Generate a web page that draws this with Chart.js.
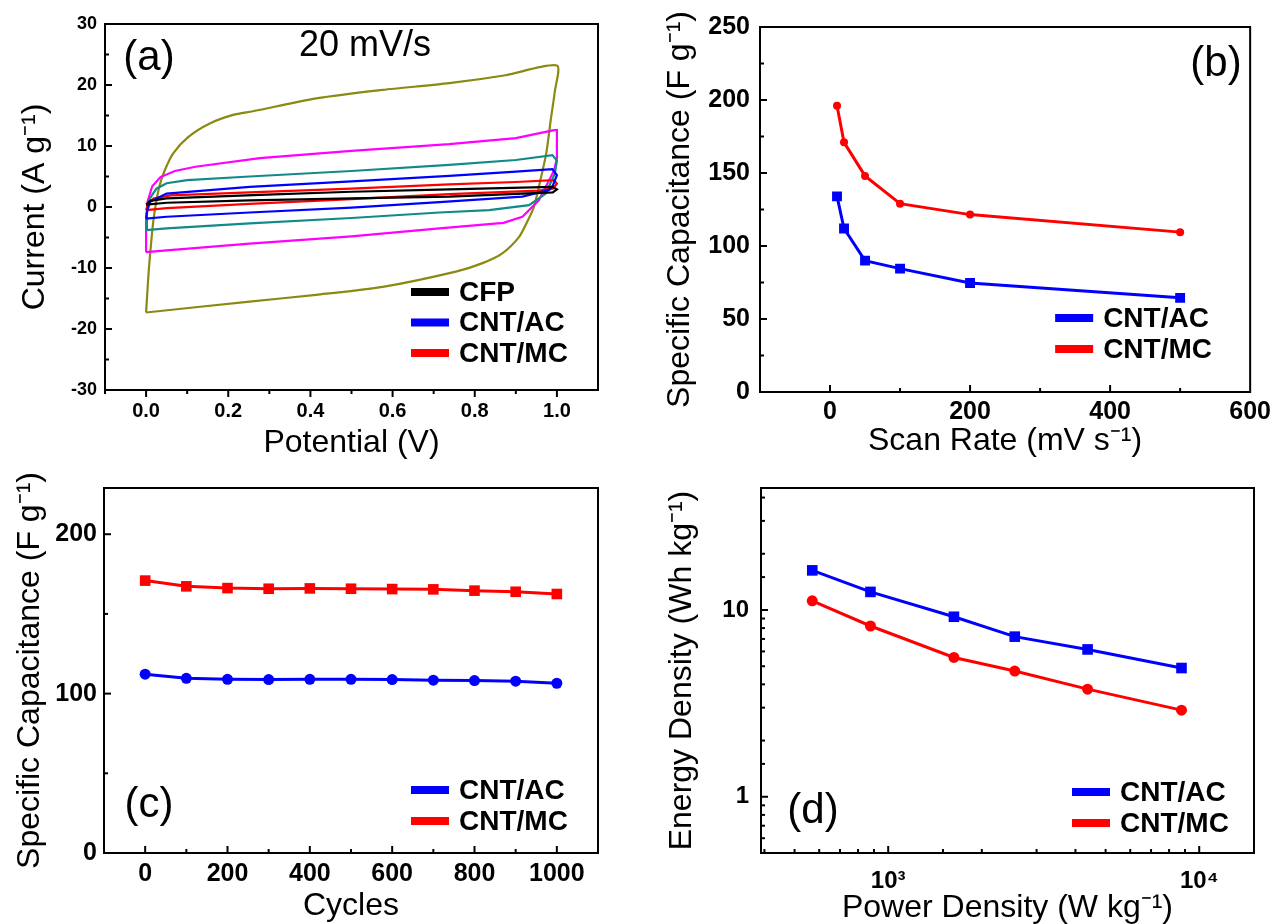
<!DOCTYPE html>
<html>
<head>
<meta charset="utf-8">
<script src="https://cdn.jsdelivr.net/npm/chart.js@4.4.1/dist/chart.umd.min.js"></script>
<style>
  html, body { margin: 0; padding: 0; background: #fff; }
  #fig { position: relative; width: 1276px; height: 924px; overflow: hidden; }
  #fig canvas { position: absolute; }
</style>
</head>
<body>
<div id="fig">
  <canvas id="cvA" width="620" height="460" style="left:0;top:0"></canvas>
  <canvas id="cvB" width="656" height="460" style="left:620px;top:0"></canvas>
  <canvas id="cvC" width="620" height="464" style="left:0;top:460px"></canvas>
  <canvas id="cvD" width="656" height="464" style="left:620px;top:460px"></canvas>
</div>
<script>
// (a) CV loops at 20 mV/s, traced around each loop (potential in V, current in A/g)
const cfpV = [0, 0.01, 0.05, 0.277, 0.5, 0.738, 0.989, 1.0, 0.99, 0.738, 0.5, 0.252, 0.05, 0];
const cfpI = [0.4, 1.0, 1.4, 2.0, 2.5, 2.9, 3.3, 2.9, 2.4, 1.7, 1.4, 1.1, 0.7, 0.4];
const acV = [0, 0.003, 0.01, 0.05, 0.252, 0.5, 0.738, 0.9, 0.989, 1.0, 0.99, 0.981, 0.916, 0.714, 0.5, 0.252, 0.05, 0];
const acI = [-1.9, -0.5, 0.9, 2.2, 3.3, 4.2, 5.1, 5.8, 6.2, 5.2, 3.5, 2.8, 1.7, 0.8, -0.1, -0.9, -1.6, -1.9];
const mcV = [0, 0.005, 0.018, 0.06, 0.252, 0.5, 0.738, 0.9, 0.993, 1.0, 0.99, 0.956, 0.738, 0.5, 0.252, 0.05, 0];
const mcI = [-0.5, 0.5, 1.4, 1.9, 2.4, 3.0, 3.7, 4.1, 4.4, 3.8, 3.0, 2.7, 2.1, 1.3, 0.5, -0.2, -0.5];
const tealV = [0, 0.002, 0.01, 0.025, 0.05, 0.1, 0.252, 0.5, 0.738, 0.9, 0.989, 1.0, 0.995, 0.973, 0.932, 0.835, 0.714, 0.5, 0.252, 0.05, 0];
const tealI = [-3.8, -1.0, 1.5, 3.0, 3.9, 4.4, 5.0, 5.9, 6.9, 7.7, 8.5, 7.6, 5.5, 2.2, 0.3, -0.5, -0.9, -1.8, -2.7, -3.5, -3.8];
const pinkV = [0, 0, 0.004, 0.015, 0.035, 0.07, 0.12, 0.277, 0.5, 0.738, 0.9, 0.993, 1.0, 1.0, 0.993, 0.981, 0.956, 0.916, 0.87, 0.714, 0.5, 0.252, 0.05, 0];
const pinkI = [-7.4, -2.0, 1.0, 3.4, 4.9, 5.9, 6.6, 8.0, 9.2, 10.3, 11.3, 12.6, 12.6, 8.0, 6.0, 4.4, 1.1, -1.6, -2.6, -3.5, -4.8, -6.0, -7.1, -7.4];
const oliveV = [0, 0.006, 0.01, 0.018, 0.032, 0.046, 0.066, 0.103, 0.155, 0.212, 0.26, 0.414, 0.576, 0.738, 0.875, 1.0,
  0.995, 0.985, 0.974, 0.956, 0.944, 0.93, 0.908, 0.867, 0.819, 0.754, 0.576, 0.414, 0.252, 0];
const oliveI = [-17.3, -10.9, -7.6, -2.1, 3.3, 6.1, 8.8, 11.5, 13.7, 15.1, 15.7, 17.8, 19.2, 20.3, 21.6, 23.2,
  19.0, 14.3, 8.8, 3.3, 0, -2.1, -4.9, -7.6, -9.2, -10.6, -13.1, -14.4, -15.5, -17.3];

// (b) specific capacitance vs scan rate
const scanRate = [10, 20, 50, 100, 200, 500];
const rateAC = [134, 112, 90, 84.5, 74.7, 64.5];
const rateMC = [196, 171, 148, 129, 121.5, 109.5];

// (c) cycling stability
const cycles = [0, 100, 200, 300, 400, 500, 600, 700, 800, 900, 1000];
const cycAC = [112.2, 109.6, 109.0, 108.8, 109.0, 109.0, 108.8, 108.4, 108.2, 107.8, 106.5];
const cycMC = [170.9, 167.3, 166.2, 165.8, 166.0, 165.8, 165.6, 165.4, 164.6, 163.9, 162.5];

// (d) Ragone plot
const power = [570, 877, 1627, 2552, 4376, 8770];
const energyAC = [16.3, 12.5, 9.2, 7.2, 6.15, 4.89];
const energyMC = [11.2, 8.21, 5.57, 4.71, 3.77, 2.91];

const FONT = "'Liberation Sans', Arial, Helvetica, sans-serif";
Chart.defaults.font.family = FONT;
Chart.defaults.color = '#000';
Chart.defaults.animation = false;

const pts = (xs, ys) => xs.map((x, i) => ({ x: x, y: ys[i] }));

// box around the plot + tick marks (inward unless listed in opts.out)
const framePlugin = {
  id: 'frame',
  afterDatasetsDraw(chart, args, opts) {
    const { ctx, chartArea: a } = chart;
    ctx.save();
    ctx.strokeStyle = '#000';
    ctx.lineWidth = 2;
    for (const id of ['x', 'y']) {
      const s = chart.scales[id];
      const out = (opts.out || []).includes(id);
      s.ticks.forEach(t => {
        if (t.value <= s.min * 1.0001 || t.value >= s.max * 0.9999) return;
        const p = s.getPixelForValue(t.value);
        let major = t.label !== '';
        if (s.type === 'logarithmic') major = Math.abs(Math.log10(t.value) - Math.round(Math.log10(t.value))) < 1e-6;
        const len = major ? 7 : 4;
        ctx.beginPath();
        if (id === 'x') {
          ctx.moveTo(p, a.bottom);
          ctx.lineTo(p, out ? a.bottom + len : a.bottom - len);
        } else {
          ctx.moveTo(a.left, p);
          ctx.lineTo(a.left + len, p);
        }
        ctx.stroke();
      });
    }
    ctx.strokeRect(a.left, a.top, a.right - a.left, a.bottom - a.top);
    ctx.restore();
  }
};

// legend with thick line samples inside the plot
const keyPlugin = {
  id: 'key',
  afterDraw(chart, args, opts) {
    const { ctx, chartArea: a } = chart;
    const sets = chart.data.datasets.filter(d => d.inKey);
    ctx.save();
    ctx.font = 'bold ' + opts.size + 'px ' + FONT;
    ctx.textBaseline = 'middle';
    ctx.textAlign = 'left';
    sets.forEach((d, i) => {
      const y = opts.y + i * opts.gap;
      const x0 = a.right - opts.fromRight;
      ctx.fillStyle = d.borderColor;
      ctx.fillRect(x0, y - 4, 38, 8);
      ctx.fillStyle = '#000';
      ctx.fillText(d.label, x0 + 48, y + 1);
    });
    ctx.restore();
  }
};

// panel letters and other free text
const notePlugin = {
  id: 'note',
  afterDraw(chart, args, opts) {
    const { ctx } = chart;
    ctx.save();
    ctx.fillStyle = '#000';
    ctx.textAlign = 'center';
    ctx.textBaseline = 'middle';
    (opts.items || []).forEach(n => {
      ctx.font = n.size + 'px ' + FONT;
      ctx.fillText(n.text, n.x, n.y);
    });
    ctx.restore();
  }
};

const plugins = [framePlugin, keyPlugin, notePlugin];

function axis(extra) {
  return Object.assign({
    grid: { display: false, drawTicks: false },
    border: { display: false },
  }, extra);
}

function tickOpts(size, padding, callback, stepSize) {
  return { font: { size: size, weight: 'bold' }, padding: padding, autoSkip: false, maxRotation: 0, callback: callback, stepSize: stepSize, color: '#000' };
}

function titleOpts(text, pad) {
  return { display: true, text: text, font: { size: 32, lineHeight: 1 }, padding: pad, color: '#000' };
}

function baseOptions(pad) {
  return {
    responsive: false,
    animation: false,
    layout: { padding: pad },
    plugins: { legend: { display: false }, tooltip: { enabled: false } },
  };
}

// ---------- (a)
const optA = baseOptions({ left: 0, top: 24, right: 22, bottom: 0 });
optA.scales = {
  x: axis({
    type: 'linear', min: -0.1, max: 1.1,
    afterFit: s => { s.height = 70; },
    ticks: tickOpts(20, 9, v => { const r = Math.round(v * 10); return (r >= 0 && r <= 10 && r % 2 === 0) ? (r / 10).toFixed(1) : ''; }, 0.1),
    title: titleOpts('Potential (V)', { top: 0, bottom: 1 })
  }),
  y: axis({
    type: 'linear', min: -30, max: 30,
    afterFit: s => { s.width = 105; },
    ticks: tickOpts(18, 8, v => (v % 10 === 0 ? v : ''), 5),
    title: titleOpts('Current (A g\u207B\u00B9)', { top: 19, bottom: 0 })
  })
};
optA.plugins.frame = { out: ['x'] };
optA.plugins.key = { size: 28, y: 292, gap: 30.5, fromRight: 187 };
optA.plugins.note = { items: [
  { text: '(a)', x: 149, y: 58, size: 42 },
  { text: '20 mV/s', x: 365, y: 46, size: 36 }
] };

const cvLine = (label, xs, ys, color, inKey, tension) => ({
  label: label, data: pts(xs, ys), showLine: true, borderColor: color, backgroundColor: color,
  borderWidth: 2.2, pointRadius: 0, tension: tension || 0, inKey: inKey
});

new Chart(document.getElementById('cvA'), {
  type: 'scatter',
  data: {
    datasets: [
      cvLine('CFP', cfpV, cfpI, '#000000', true),
      cvLine('CNT/AC', acV, acI, '#0000ff', true),
      cvLine('CNT/MC', mcV, mcI, '#ff0000', true),
      cvLine('teal', tealV, tealI, '#138a8a', false),
      cvLine('magenta', pinkV, pinkI, '#ff00ff', false),
      cvLine('olive', oliveV, oliveI, '#8a8a10', false, 0.25)
    ]
  },
  options: optA,
  plugins: plugins
});

const markLine = (label, xs, ys, color, style, r) => ({
  label: label, data: pts(xs, ys), showLine: true, borderColor: color, backgroundColor: color,
  borderWidth: 3, pointStyle: style, pointRadius: r, pointBorderWidth: 0, tension: 0, inKey: true
});

// ---------- (b)
const optB = baseOptions({ left: 0, top: 27, right: 22, bottom: 0 });
optB.scales = {
  x: axis({
    type: 'linear', min: -100, max: 600,
    afterFit: s => { s.height = 68; },
    ticks: tickOpts(25, 5, v => (v >= 0 && v % 200 === 0 ? v : ''), 100),
    title: titleOpts('Scan Rate (mV s\u207B\u00B9)', { top: 0, bottom: 3 })
  }),
  y: axis({
    type: 'linear', min: 0, max: 250,
    afterFit: s => { s.width = 140; },
    ticks: tickOpts(25, 10, v => (v % 50 === 0 ? v : ''), 25),
    title: titleOpts('Specific Capacitance (F g\u207B\u00B9)', { top: 44, bottom: 0 })
  })
};
optB.plugins.frame = { out: [] };
optB.plugins.key = { size: 28, y: 318, gap: 31, fromRight: 195 };
optB.plugins.note = { items: [{ text: '(b)', x: 596, y: 64, size: 42 }] };

new Chart(document.getElementById('cvB'), {
  type: 'scatter',
  data: {
    datasets: [
      markLine('CNT/AC', scanRate, rateAC, '#0000ff', 'rect', 7),
      markLine('CNT/MC', scanRate, rateMC, '#ff0000', 'circle', 4)
    ]
  },
  options: optB,
  plugins: plugins
});

// ---------- (c)
const optC = baseOptions({ left: 0, top: 28, right: 22, bottom: 0 });
optC.scales = {
  x: axis({
    type: 'linear', min: -100, max: 1100,
    afterFit: s => { s.height = 71; },
    ticks: tickOpts(25, 6, v => (v >= 0 && v <= 1000 && v % 200 === 0 ? v : ''), 100),
    title: titleOpts('Cycles', { top: 0, bottom: 2 })
  }),
  y: axis({
    type: 'linear', min: 0, max: 229,
    afterFit: s => { s.width = 104; },
    ticks: tickOpts(25, 7, v => (v % 100 === 0 ? v : ''), 50),
    title: titleOpts('Specific Capacitance (F g\u207B\u00B9)', { top: 14, bottom: 0 })
  })
};
optC.plugins.frame = { out: [] };
optC.plugins.key = { size: 28, y: 330, gap: 31, fromRight: 187 };
optC.plugins.note = { items: [{ text: '(c)', x: 149, y: 345, size: 42 }] };

new Chart(document.getElementById('cvC'), {
  type: 'scatter',
  data: {
    datasets: [
      markLine('CNT/AC', cycles, cycAC, '#0000ff', 'circle', 5.5),
      markLine('CNT/MC', cycles, cycMC, '#ff0000', 'rect', 7.5)
    ]
  },
  options: optC,
  plugins: plugins
});

// ---------- (d)
const near = (v, t) => Math.abs(v - t) < 1e-6 * t;
const optD = baseOptions({ left: 0, top: 28, right: 22, bottom: 0 });
optD.scales = {
  x: axis({
    type: 'logarithmic', min: 390, max: 15000,
    afterFit: s => { s.height = 71; },
    ticks: tickOpts(24, 14, v => (near(v, 1000) ? '10\u00B3' : near(v, 10000) ? '10\u2074' : '')),
    title: titleOpts('Power Density (W kg\u207B\u00B9)', { top: 0, bottom: 0 })
  }),
  y: axis({
    type: 'logarithmic', min: 0.5, max: 45,
    afterFit: s => { s.width = 141; },
    ticks: tickOpts(24, 12, v => (near(v, 1) ? '1' : near(v, 10) ? '10' : '')),
    title: titleOpts('Energy Density (Wh kg\u207B\u00B9)', { top: 46, bottom: 0 })
  })
};
optD.plugins.frame = { out: [] };
optD.plugins.key = { size: 28, y: 332, gap: 31, fromRight: 182 };
optD.plugins.note = { items: [{ text: '(d)', x: 193, y: 351, size: 42 }] };

new Chart(document.getElementById('cvD'), {
  type: 'scatter',
  data: {
    datasets: [
      markLine('CNT/AC', power, energyAC, '#0000ff', 'rect', 7.5),
      markLine('CNT/MC', power, energyMC, '#ff0000', 'circle', 5.5)
    ]
  },
  options: optD,
  plugins: plugins
});
</script>
</body>
</html>
